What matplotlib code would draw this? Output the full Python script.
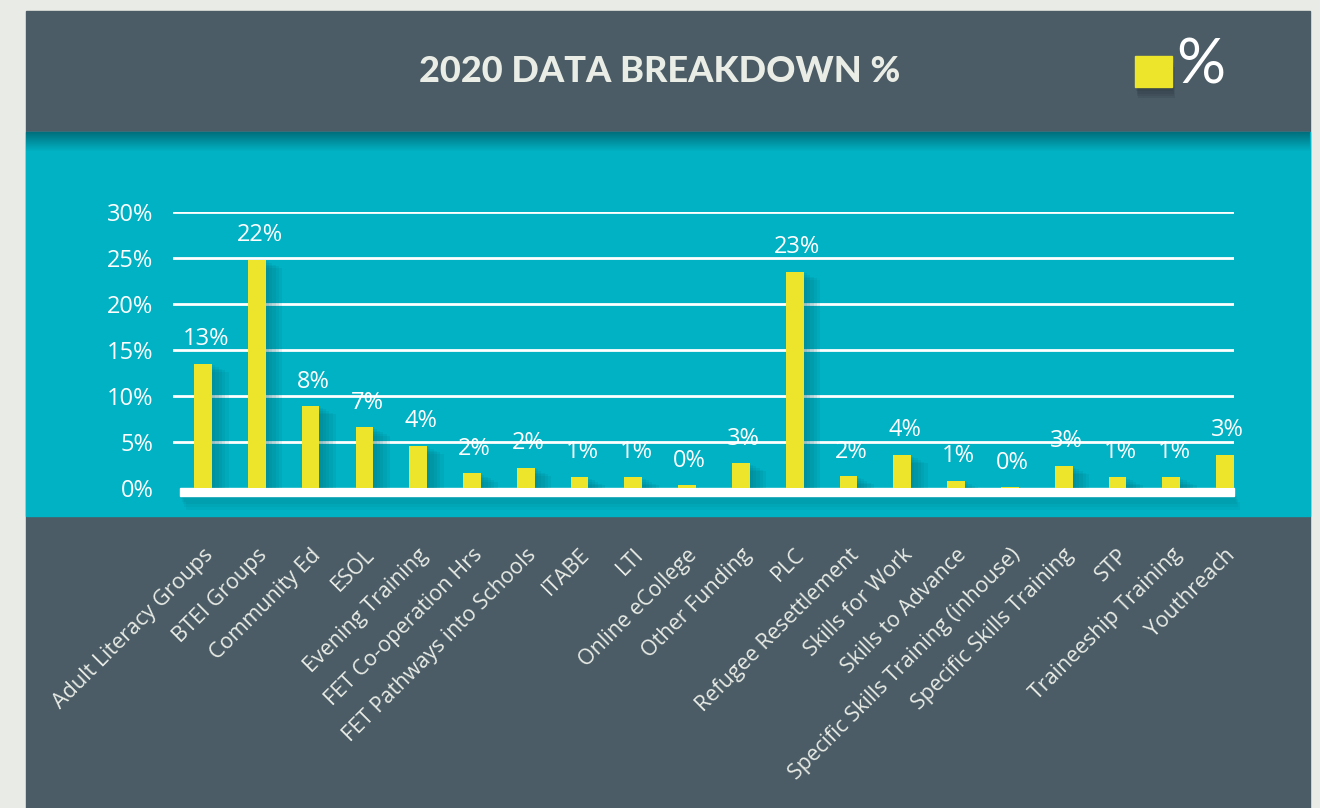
import numpy as np
import matplotlib
matplotlib.use('Agg')
import matplotlib.pyplot as plt
from matplotlib.patches import Rectangle
import matplotlib.patheffects as pe

# data
categories = ['Adult Literacy Groups', 'BTEI Groups', 'Community Ed', 'ESOL',
              'Evening Training', 'FET Co-operation Hrs', 'FET Pathways into Schools',
              'ITABE', 'LTI', 'Online eCollege', 'Other Funding', 'PLC',
              'Refugee Resettlement', 'Skills for Work', 'Skills to Advance',
              'Specific Skills Training (inhouse)', 'Specific Skills Training',
              'STP', 'Traineeship Training', 'Youthreach']
bar_values = [13.5, 24.8, 8.9, 6.6, 4.6, 1.6, 2.2, 1.2, 1.2, 0.3,
              2.7, 23.5, 1.3, 3.6, 0.8, 0.1, 2.4, 1.2, 1.2, 3.6]
value_labels = [13, 22, 8, 7, 4, 2, 2, 1, 1, 0, 3, 23, 2, 4, 1, 0, 3, 1, 1, 3]
y_ticks = [0, 5, 10, 15, 20, 25, 30]

OUTER = '#e9ece6'
SLATE = '#4b5c66'
TEAL = '#00b2c4'
YELLOW = '#ede42c'
FONT = 'Open Sans'


def soft_shadow(color, dx, dy, steps=5, alpha=0.07):
    # stack a few offset shadows to fake a blur
    effects = []
    for k in range(1, steps + 1):
        effects.append(pe.SimplePatchShadow(offset=(dx * k / steps, dy * k / steps),
                                            shadow_rgbFace=color, alpha=alpha))
    effects.append(pe.Normal())
    return effects


fig = plt.figure(figsize=(13.2, 8.08), dpi=100)
fig.patch.set_facecolor(OUTER)

# background panels, drawn in pixel coords
bg = fig.add_axes([0, 0, 1, 1])
bg.axis('off')
bg.add_patch(Rectangle((26, 11), 1284, 797, color=SLATE, zorder=1))
bg.add_patch(Rectangle((26, 132), 1284, 384, color=TEAL, zorder=1))
# soft shadow under the title band
grad = np.zeros((20, 2, 4))
grad[..., 1] = 0.33
grad[..., 2] = 0.38
grad[..., 3] = np.linspace(0.7, 0, 20)[:, None]
bg.imshow(grad, extent=(26, 1310, 152, 132), aspect='auto', zorder=2,
          interpolation='bilinear')
bg.set_xlim(0, 1320)
bg.set_ylim(808, 0)

bg.text(660, 72, '2020 DATA BREAKDOWN %', ha='center', va='center',
        fontsize=26, fontweight='black', color='#eaede5', family='Lato', zorder=3)
leg = Rectangle((1135, 56), 37, 31, color=YELLOW, zorder=3)
leg.set_path_effects(soft_shadow('#1c2a30', 2, -8, alpha=0.12))
bg.add_patch(leg)
bg.text(1176, 66, '%', ha='left', va='center', fontsize=44, fontweight='normal',
        color='white', family='Lato', zorder=3)

# thick white baseline under the bars
base = Rectangle((180, 488), 1054, 8, color='white', zorder=3)
base.set_path_effects(soft_shadow('#00606c', 4, -10, alpha=0.08))
bg.add_patch(base)

# the chart itself
ax = fig.add_axes([173 / 1320, 320 / 808, 1061 / 1320, 276.3 / 808])
ax.patch.set_alpha(0)
x = np.arange(len(categories))
ax.set_xlim(-0.558, len(categories) - 1 + 0.167)
ax.set_ylim(0, 30)

for t in y_ticks[1:]:
    ax.axhline(t, color='white', linewidth=2.0, zorder=1)

bars = ax.bar(x, bar_values, width=0.33, color=YELLOW, zorder=3)
for b in bars:
    b.set_path_effects(soft_shadow('#005f6b', 12, -6, alpha=0.09))

for xi, h, lab in zip(x, bar_values, value_labels):
    ax.annotate(f'{lab}%', (xi + 0.05, h), xytext=(0, 9), textcoords='offset points',
                ha='center', va='bottom', fontsize=17, color='white', family=FONT, zorder=4)

for s in ax.spines.values():
    s.set_visible(False)
ax.set_yticks(y_ticks)
ax.set_yticklabels([f'{t}%' for t in y_ticks], fontsize=17, color='white', family=FONT,
                   va='center_baseline')
ax.set_xticks(x + 0.13)
ax.set_xticklabels(categories, rotation=45, ha='right', va='center',
                   rotation_mode='anchor', fontsize=15.5, color='#e8ebe5', family=FONT)
ax.tick_params(axis='y', length=0, pad=14)
ax.tick_params(axis='x', length=0, pad=46)

fig.savefig('out.png', dpi=100, facecolor=OUTER)
